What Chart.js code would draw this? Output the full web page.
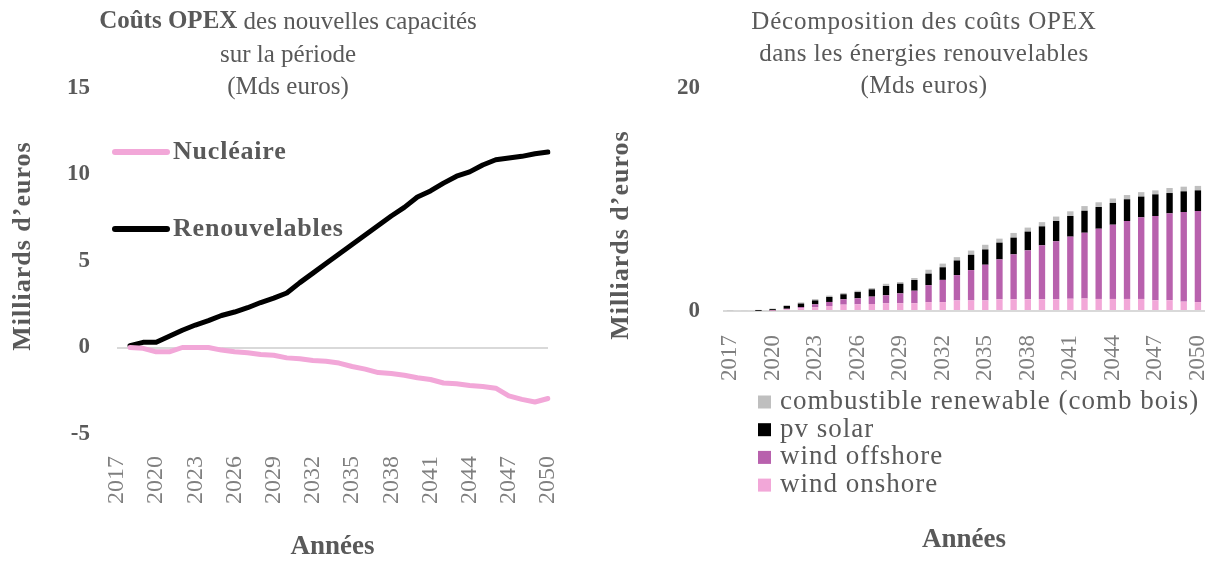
<!DOCTYPE html>
<html>
<head>
<meta charset="utf-8">
<script src="https://cdn.jsdelivr.net/npm/chart.js@4"></script>
<style>
  body { margin: 0; background: #fff; width: 1211px; height: 563px; overflow: hidden; position: relative; }
  #left { position: absolute; left: 0; top: 0; }
  #right { position: absolute; left: 590px; top: 0; }
</style>
</head>
<body>
<canvas id="left" width="580" height="563"></canvas>
<canvas id="right" width="621" height="563"></canvas>
<script>
const years = ["2017","2018","2019","2020","2021","2022","2023","2024","2025","2026","2027","2028",
  "2029","2030","2031","2032","2033","2034","2035","2036","2037","2038","2039","2040","2041",
  "2042","2043","2044","2045","2046","2047","2048","2049","2050"]

// left chart, Mds euros
const nucleaire = [null, 0.0, -0.05, -0.25, -0.25, 0.0, 0.0, 0.0, -0.15, -0.25, -0.3, -0.4, -0.45,
  -0.6, -0.65, -0.75, -0.8, -0.9, -1.1, -1.25, -1.45, -1.5, -1.6, -1.75, -1.85, -2.05, -2.1,
  -2.2, -2.25, -2.35, -2.8, -3.0, -3.15, -2.95]
const renouvelables = [null, 0.1, 0.3, 0.3, 0.65, 1.0, 1.3, 1.55, 1.85, 2.05, 2.3, 2.6, 2.85,
  3.15, 3.75, 4.3, 4.85, 5.4, 5.95, 6.5, 7.05, 7.6, 8.1, 8.7, 9.05, 9.5, 9.9, 10.15, 10.55,
  10.85, 10.95, 11.05, 11.2, 11.3]

// right chart, Mds euros
const windOnshore = [0, 0, 0, 0.02, 0.15, 0.25, 0.33, 0.45, 0.57, 0.6, 0.63, 0.7, 0.7, 0.7, 0.8,
  0.8, 0.95, 0.95, 0.95, 1.05, 1.05, 1.05, 1.05, 1.05, 1.1, 1.12, 1.08, 1.08, 1.08, 1.08, 0.96,
  0.96, 0.84, 0.8]
const windOffshore = [0, 0, 0, 0, 0.05, 0.1, 0.27, 0.36, 0.48, 0.54, 0.66, 0.71, 0.88, 1.12, 1.52,
  1.99, 2.27, 2.72, 3.2, 3.58, 4.03, 4.39, 4.84, 5.2, 5.57, 5.9, 6.3, 6.66, 6.99, 7.32, 7.56,
  7.8, 8.04, 8.17]
const pvSolar = [0, 0, 0.02, 0.15, 0.25, 0.32, 0.35, 0.45, 0.45, 0.56, 0.65, 0.83, 0.87, 0.96, 1.03,
  1.13, 1.31, 1.37, 1.37, 1.5, 1.5, 1.68, 1.7, 1.82, 1.85, 1.97, 1.95, 1.95, 1.95, 1.86, 1.94,
  1.82, 1.85, 1.85]
const combBois = [0.05, 0.08, 0.08, 0.05, 0.08, 0.1, 0.12, 0.12, 0.12, 0.12, 0.12, 0.2, 0.15, 0.18,
  0.35, 0.33, 0.3, 0.38, 0.42, 0.36, 0.42, 0.36, 0.38, 0.4, 0.42, 0.42, 0.42, 0.4, 0.38, 0.4,
  0.36, 0.45, 0.42, 0.4]

const serif = "'Liberation Serif', 'DejaVu Serif', serif"
const grey = '#595959'
const tickGrey = '#7f7f7f'
const pink = '#f2a7d8'
const purple = '#b861ad'

// free text drawn over the canvas (titles, y axis titles)
const overlayText = {
  id: 'overlayText',
  afterDraw(chart, args, opts) {
    const ctx = chart.ctx
    ;(opts.items || []).forEach(item => {
      ctx.save()
      ctx.translate(item.x, item.y)
      if (item.rotate) ctx.rotate(item.rotate)
      ctx.fillStyle = item.color || grey
      ctx.textBaseline = 'middle'
      ctx.textAlign = 'left'
      ctx.letterSpacing = (item.spacing || 0) + 'px'
      let parts = item.parts || [{ text: item.text, font: item.font }]
      let total = 0
      parts.forEach(p => { ctx.font = p.font; total += ctx.measureText(p.text).width })
      let x = -total / 2
      parts.forEach(p => {
        ctx.font = p.font
        ctx.fillText(p.text, x, 0)
        x += ctx.measureText(p.text).width
      })
      ctx.restore()
    })
  }
}

// legend stacked in a column at a chosen place
const columnLegend = {
  id: 'columnLegend',
  afterDraw(chart, args, opts) {
    if (opts.x === undefined) return
    const ctx = chart.ctx
    let order = chart.data.datasets.map((d, i) => i)
    if (opts.reverse) order.reverse()
    order.forEach((i, row) => {
      const ds = chart.data.datasets[i]
      const y = opts.y + row * opts.step
      ctx.save()
      if (opts.kind === 'line') {
        ctx.strokeStyle = ds.borderColor
        ctx.lineWidth = opts.lineWidth
        ctx.lineCap = 'round'
        ctx.beginPath()
        ctx.moveTo(opts.x, y)
        ctx.lineTo(opts.x + opts.sample, y)
        ctx.stroke()
      } else {
        ctx.fillStyle = ds.backgroundColor
        ctx.fillRect(opts.x, y - opts.sample / 2, opts.sample, opts.sample)
      }
      ctx.fillStyle = grey
      ctx.font = opts.font
      ctx.letterSpacing = (opts.spacing || 0) + 'px'
      ctx.textBaseline = 'middle'
      ctx.fillText(ds.label, opts.textX, y)
      ctx.restore()
    })
  }
}

function zeroLine(ctx) {
  return ctx.tick.value === 0 ? '#d9d9d9' : 'rgba(0,0,0,0)'
}

function everyThird(value, index) {
  return index % 3 === 0 ? this.getLabelForValue(value) : ''
}

// fixed height for the x axis, and no extra room for the rotated end labels
function xAxisHeight(h) {
  return function (scale) {
    scale.height = h
    scale.paddingLeft = 0
    scale.paddingRight = 0
  }
}

new Chart(document.getElementById('left'), {
  type: 'line',
  data: {
    labels: years,
    datasets: [
      { label: 'Nucléaire', data: nucleaire, borderColor: pink, borderWidth: 5, pointRadius: 0,
        borderCapStyle: 'round', borderJoinStyle: 'round' },
      { label: 'Renouvelables', data: renouvelables, borderColor: '#000', borderWidth: 5, pointRadius: 0,
        borderCapStyle: 'round', borderJoinStyle: 'round' }
    ]
  },
  plugins: [overlayText, columnLegend],
  options: {
    responsive: false,
    animation: false,
    layout: { padding: { top: 88, right: 32, left: 0, bottom: 0 } },
    plugins: {
      legend: { display: false },
      tooltip: { enabled: false },
      overlayText: {
        items: [
          { x: 288, y: 22, parts: [
            { text: 'Coûts OPEX ', font: `bold 25px ${serif}` },
            { text: 'des nouvelles capacités', font: `25px ${serif}` } ] },
          { x: 288, y: 55, font: `25px ${serif}`, text: 'sur la période' },
          { x: 288, y: 87, font: `25px ${serif}`, text: '(Mds euros)' },
          { x: 23, y: 246, rotate: -Math.PI / 2, font: `bold 26px ${serif}`, spacing: 1, text: 'Milliards d’euros' }
        ]
      },
      columnLegend: { kind: 'line', x: 115, y: 152, step: 77, sample: 52, lineWidth: 6,
        textX: 173, font: `bold 26px ${serif}`, spacing: 0.8 }
    },
    scales: {
      x: {
        grid: { display: false },
        border: { display: false },
        ticks: { autoSkip: false, maxRotation: 90, minRotation: 90, padding: 14,
          font: { family: serif, size: 24 }, color: tickGrey, callback: everyThird },
        title: { display: true, text: 'Années', color: grey, padding: 0,
          font: { family: serif, size: 27, weight: 'bold' } },
        afterFit: xAxisHeight(129)
      },
      y: {
        min: -5, max: 15,
        ticks: { stepSize: 5, padding: 27, color: grey, font: { family: serif, size: 23, weight: 'bold' } },
        grid: { drawTicks: false, color: zeroLine, lineWidth: 2 },
        border: { display: false },
        afterFit(scale) { scale.width = 117 }
      }
    }
  }
})

new Chart(document.getElementById('right'), {
  type: 'bar',
  data: {
    labels: years,
    datasets: [
      { label: 'wind onshore', data: windOnshore, backgroundColor: pink },
      { label: 'wind offshore', data: windOffshore, backgroundColor: purple },
      { label: 'pv solar', data: pvSolar, backgroundColor: '#000' },
      { label: 'combustible renewable (comb bois)', data: combBois, backgroundColor: '#bfbfbf' }
    ]
  },
  plugins: [overlayText, columnLegend],
  options: {
    responsive: false,
    animation: false,
    layout: { padding: { top: 88, right: 6, left: 0, bottom: 0 } },
    datasets: { bar: { barPercentage: 0.9, categoryPercentage: 0.5 } },
    plugins: {
      legend: { display: false },
      tooltip: { enabled: false },
      overlayText: {
        items: [
          { x: 334, y: 22, font: `25px ${serif}`, spacing: 0.8, text: 'Décomposition des coûts OPEX' },
          { x: 334, y: 54, font: `25px ${serif}`, spacing: 0.5, text: 'dans les énergies renouvelables' },
          { x: 334, y: 86, font: `25px ${serif}`, spacing: 0.5, text: '(Mds euros)' },
          { x: 31, y: 235, rotate: -Math.PI / 2, font: `bold 26px ${serif}`, spacing: 1, text: 'Milliards d’euros' }
        ]
      },
      columnLegend: { kind: 'box', reverse: true, x: 168, y: 402, step: 27.7, sample: 13,
        textX: 190, font: `27px ${serif}`, spacing: 1 }
    },
    scales: {
      x: {
        stacked: true,
        grid: { display: false },
        border: { display: false },
        ticks: { autoSkip: false, maxRotation: 90, minRotation: 90, padding: 16,
          font: { family: serif, size: 23 }, color: tickGrey, callback: everyThird },
        title: { display: true, text: 'Années', color: grey, padding: { top: 0, bottom: 7 },
          font: { family: serif, size: 27, weight: 'bold' } },
        afterFit: xAxisHeight(252)
      },
      y: {
        stacked: true,
        min: 0, max: 20,
        ticks: { stepSize: 20, padding: 23, color: grey, font: { family: serif, size: 23, weight: 'bold' } },
        grid: { drawTicks: false, color: zeroLine, lineWidth: 2 },
        border: { display: false },
        afterFit(scale) { scale.width = 133 }
      }
    }
  }
})
</script>
</body>
</html>
